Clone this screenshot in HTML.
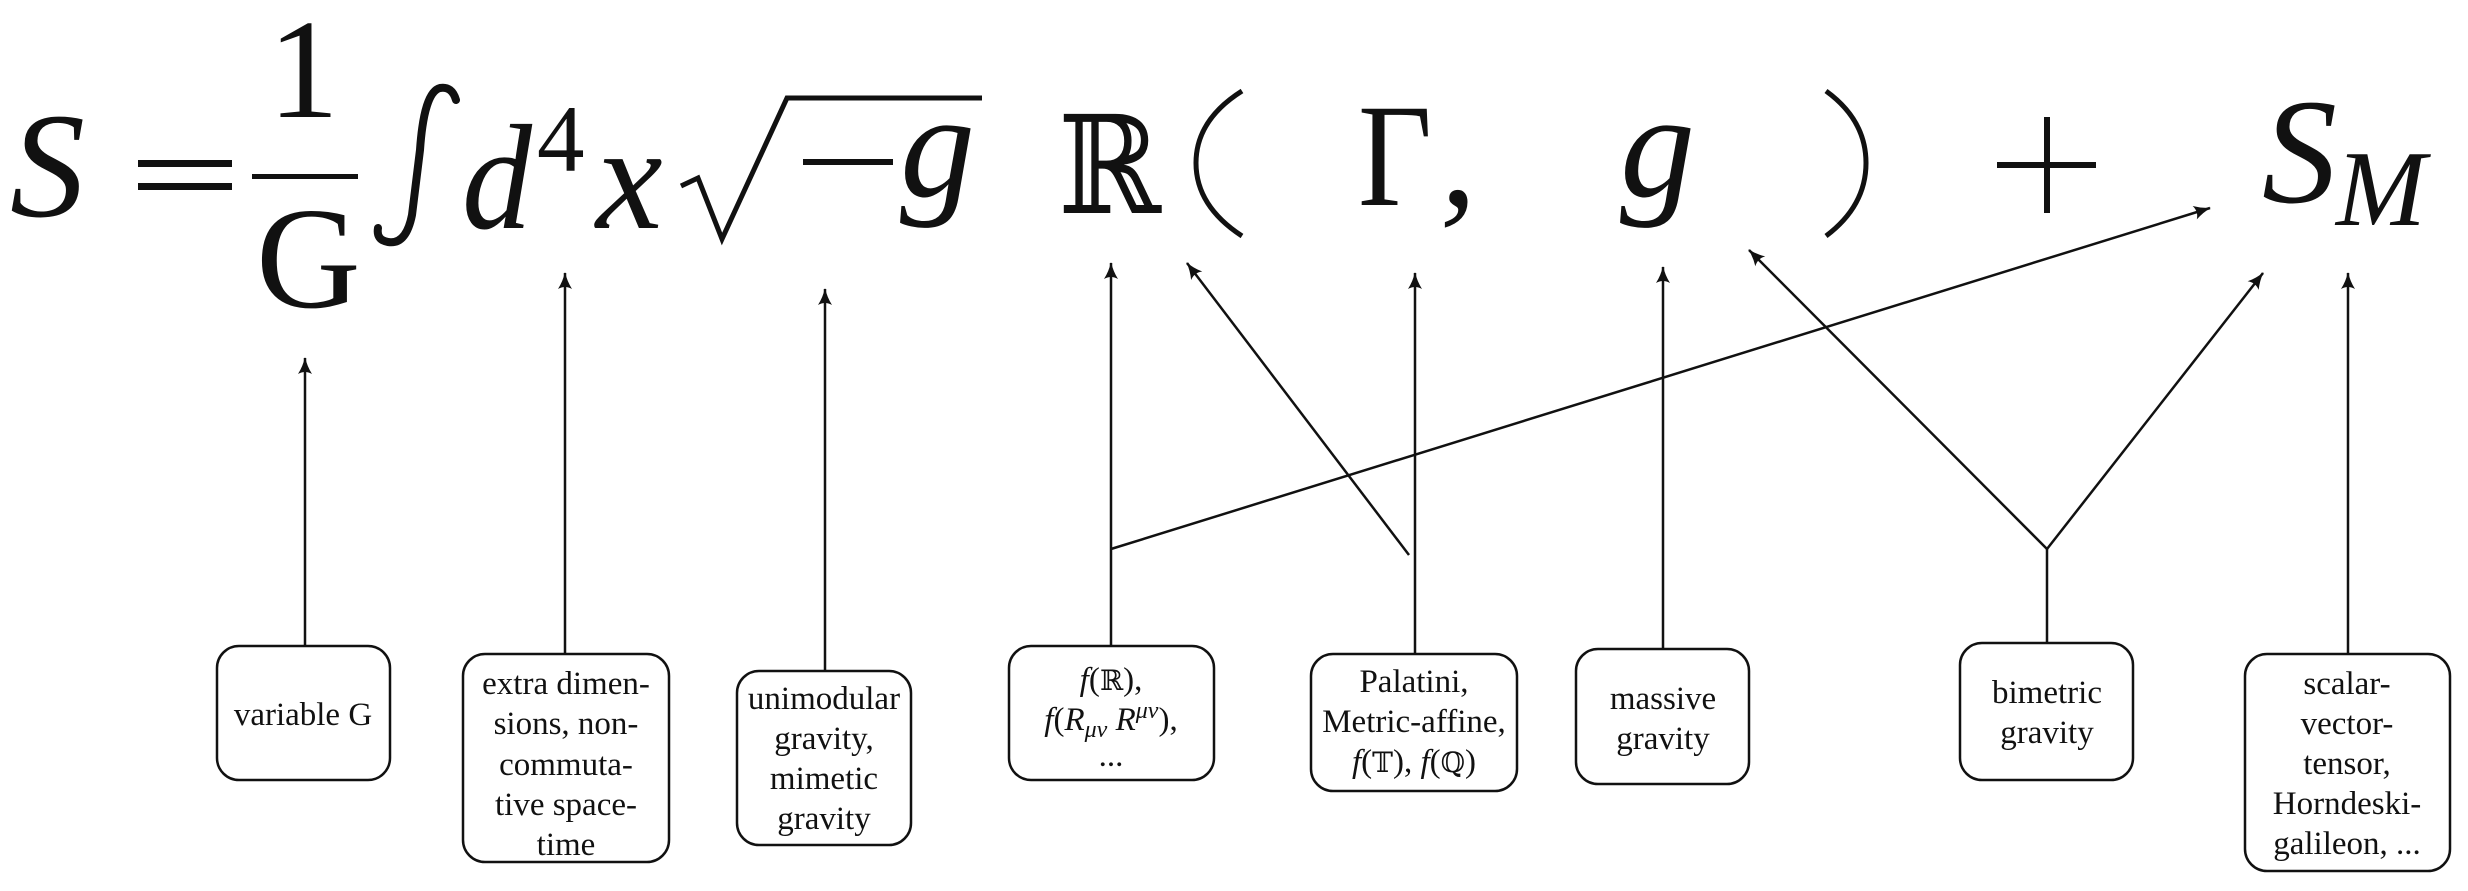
<!DOCTYPE html>
<html><head><meta charset="utf-8"><style>
html,body{margin:0;padding:0;background:#fff;}
svg{display:block;}
.m{font-family:"Liberation Serif","DejaVu Serif",serif;font-style:italic;fill:#111;}
.u{font-family:"Liberation Serif","DejaVu Serif",serif;fill:#111;}
.bb{font-family:"DejaVu Serif",serif;fill:#111;}
.t{font-family:"Liberation Serif",serif;font-size:33px;fill:#111;text-anchor:middle;}
.box{fill:#fff;stroke:#111;stroke-width:2.5;}
.ln{stroke:#111;stroke-width:2.5;fill:none;}
</style></head><body>
<svg width="2468" height="891" viewBox="0 0 2468 891" xmlns="http://www.w3.org/2000/svg">
<defs>
<marker id="a" viewBox="0 0 20 20" refX="18" refY="10" markerWidth="20" markerHeight="20" markerUnits="userSpaceOnUse" orient="auto">
<path d="M2,3 Q10,8 19,10 Q10,12 2,17 Q6,10 2,3 Z" fill="#111"/>
</marker>
</defs>

<!-- equation -->
<text class="m" x="10" y="216" font-size="150">S</text>
<rect x="138" y="160" width="94" height="7" fill="#111"/>
<rect x="138" y="183" width="94" height="7" fill="#111"/>
<text class="u" x="268" y="117" font-size="142">1</text>
<rect x="252" y="174" width="106" height="5" fill="#111"/>
<text class="u" x="256" y="307" font-size="145">G</text>
<path d="M456,100 Q452,86 440,88 Q424,92 420,150 L412,215 Q406,245 388,242 Q376,240 378,228" stroke="#111" stroke-width="8" fill="none" stroke-linecap="round"/>
<text class="m" x="462" y="228" font-size="150" textLength="70" lengthAdjust="spacingAndGlyphs">d</text>
<text class="u" x="537" y="171" font-size="95">4</text>
<text class="m" x="596" y="228" font-size="150">x</text>
<path d="M681,186 L698,178 L722,239 L787,98 L982,98" stroke="#111" stroke-width="5" fill="none"/>
<rect x="803" y="159" width="90" height="6" fill="#111"/>
<text class="m" x="900" y="196" font-size="150">g</text>
<text class="bb" x="1058" y="213" font-size="136" textLength="103" lengthAdjust="spacingAndGlyphs">ℝ</text>
<path d="M1242,91 Q1196,120 1196,163 Q1196,206 1242,236" stroke="#111" stroke-width="5" fill="none"/>
<text class="u" x="1358" y="205" font-size="147" textLength="74" lengthAdjust="spacingAndGlyphs">Γ</text>
<text class="m" x="1440" y="205" font-size="147">,</text>
<text class="m" x="1620" y="196" font-size="150">g</text>
<path d="M1826,91 Q1866,120 1866,163 Q1866,206 1826,236" stroke="#111" stroke-width="5" fill="none"/>
<rect x="1997" y="162" width="99" height="6" fill="#111"/>
<rect x="2044" y="117" width="6" height="96" fill="#111"/>
<text class="m" x="2262" y="202" font-size="150">S</text>
<text class="m" x="2336" y="225" font-size="108">M</text>

<!-- connectors -->
<line class="ln" x1="305" y1="646" x2="305" y2="358" marker-end="url(#a)"/>
<line class="ln" x1="565" y1="654" x2="565" y2="273" marker-end="url(#a)"/>
<line class="ln" x1="825" y1="671" x2="825" y2="289" marker-end="url(#a)"/>
<line class="ln" x1="1111" y1="646" x2="1111" y2="263" marker-end="url(#a)"/>
<line class="ln" x1="1111" y1="549" x2="2210" y2="208" marker-end="url(#a)"/>
<line class="ln" x1="1415" y1="654" x2="1415" y2="273" marker-end="url(#a)"/>
<line class="ln" x1="1409" y1="555" x2="1187" y2="263" marker-end="url(#a)"/>
<line class="ln" x1="1663" y1="649" x2="1663" y2="267" marker-end="url(#a)"/>
<line class="ln" x1="2047" y1="643" x2="2047" y2="549"/>
<line class="ln" x1="2047" y1="549" x2="1749" y2="250" marker-end="url(#a)"/>
<line class="ln" x1="2047" y1="549" x2="2263" y2="273" marker-end="url(#a)"/>
<line class="ln" x1="2348" y1="654" x2="2348" y2="273" marker-end="url(#a)"/>

<!-- boxes -->
<rect class="box" x="217" y="646" width="173" height="134" rx="22"/>
<text class="t" x="303" y="725">variable G</text>

<rect class="box" x="463" y="654" width="206" height="208" rx="22"/>
<text class="t" x="566" y="694">extra dimen-</text>
<text class="t" x="566" y="734">sions, non-</text>
<text class="t" x="566" y="775">commuta-</text>
<text class="t" x="566" y="815">tive space-</text>
<text class="t" x="566" y="855">time</text>

<rect class="box" x="737" y="671" width="174" height="174" rx="22"/>
<text class="t" x="824" y="709">unimodular</text>
<text class="t" x="824" y="749">gravity,</text>
<text class="t" x="824" y="789">mimetic</text>
<text class="t" x="824" y="829">gravity</text>

<rect class="box" x="1009" y="646" width="205" height="134" rx="22"/>
<text class="t" x="1111" y="690"><tspan font-style="italic">f</tspan>(<tspan font-family="DejaVu Serif" font-size="28">ℝ</tspan>),</text>
<text class="t" x="1111" y="730"><tspan font-style="italic">f</tspan>(<tspan font-style="italic">R</tspan><tspan font-style="italic" font-size="24" dy="7">μν</tspan><tspan font-style="italic" dy="-7"> R</tspan><tspan font-style="italic" font-size="24" dy="-12">μν</tspan><tspan dy="12">),</tspan></text>
<text class="t" x="1111" y="766">...</text>

<rect class="box" x="1311" y="654" width="206" height="137" rx="22"/>
<text class="t" x="1414" y="692">Palatini,</text>
<text class="t" x="1414" y="732">Metric-affine,</text>
<text class="t" x="1414" y="772"><tspan font-style="italic">f</tspan>(<tspan font-family="DejaVu Serif" font-size="28">𝕋</tspan>), <tspan font-style="italic">f</tspan>(<tspan font-family="DejaVu Serif" font-size="28">ℚ</tspan>)</text>

<rect class="box" x="1576" y="649" width="173" height="135" rx="22"/>
<text class="t" x="1663" y="709">massive</text>
<text class="t" x="1663" y="749">gravity</text>

<rect class="box" x="1960" y="643" width="173" height="137" rx="22"/>
<text class="t" x="2047" y="703">bimetric</text>
<text class="t" x="2047" y="743">gravity</text>

<rect class="box" x="2245" y="654" width="205" height="217" rx="22"/>
<text class="t" x="2347" y="694">scalar-</text>
<text class="t" x="2347" y="734">vector-</text>
<text class="t" x="2347" y="774">tensor,</text>
<text class="t" x="2347" y="814">Horndeski-</text>
<text class="t" x="2347" y="854">galileon, ...</text>
</svg>
</body></html>
